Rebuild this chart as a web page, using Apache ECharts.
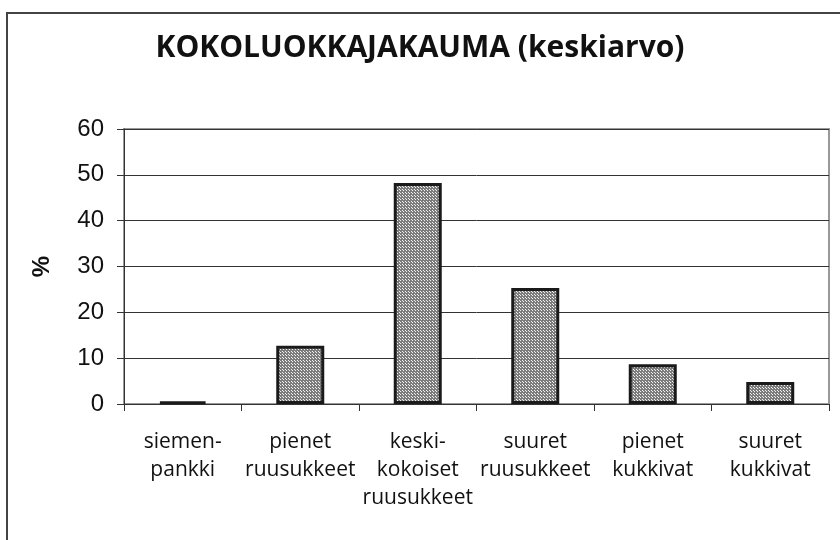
<!DOCTYPE html>
<html>
<head>
<meta charset="utf-8">
<script src="https://cdn.jsdelivr.net/npm/echarts@6/dist/echarts.min.js"></script>
<style>
  html, body { margin: 0; padding: 0; background: #fff; }
  #chart { width: 840px; height: 540px; }
</style>
</head>
<body>
<div id="chart"></div>
<script>
const categories = [
  'siemen-\npankki',
  'pienet\nruusukkeet',
  'keski-\nkokoiset\nruusukkeet',
  'suuret\nruusukkeet',
  'pienet\nkukkivat',
  'suuret\nkukkivat',
]
const values = [0.5, 12.7, 48.2, 25.3, 8.7, 4.8]
const yTicks = [0, 10, 20, 30, 40, 50, 60]

// dotted gray fill like the old spreadsheet pattern
const makePattern = () => {
  const c = document.createElement('canvas')
  c.width = 3
  c.height = 3
  const ctx = c.getContext('2d')
  ctx.fillStyle = '#7c7c7c'
  ctx.fillRect(0, 0, 3, 3)
  ctx.fillStyle = '#f2f2f2'
  ctx.fillRect(1, 1, 1, 1)
  ctx.fillRect(0, 0, 1, 1)
  return c
}

const chart = echarts.init(document.getElementById('chart'))

const option = {
  animation: false,
  backgroundColor: '#fff',
  title: {
    text: 'KOKOLUOKKAJAKAUMA (keskiarvo)',
    left: 'center',
    top: 28,
    textStyle: {
      fontFamily: 'Open Sans',
      fontWeight: 'bold',
      fontSize: 30,
      color: '#111',
    },
  },
  graphic: [
    {
      type: 'rect',
      shape: { x: 7, y: 13, width: 900, height: 600 },
      style: { fill: 'none', stroke: '#444', lineWidth: 2 },
      silent: true,
    },
  ],
  grid: {
    left: 124,
    right: 11,
    top: 129,
    bottom: 136,
    show: true,
    borderColor: '#999',
    borderWidth: 2,
  },
  xAxis: {
    type: 'category',
    data: categories,
    axisLine: { lineStyle: { color: '#333', width: 1 } },
    axisTick: { show: true, length: 7, lineStyle: { color: '#333' } },
    axisLabel: {
      margin: 24,
      interval: 0,
      fontFamily: 'Open Sans',
      fontSize: 21,
      lineHeight: 28,
      color: '#111',
    },
  },
  yAxis: {
    type: 'value',
    min: yTicks[0],
    max: yTicks[yTicks.length - 1],
    interval: 10,
    name: '%',
    nameLocation: 'middle',
    nameRotate: 90,
    nameGap: 70,
    nameTextStyle: {
      fontFamily: 'Liberation Sans',
      fontWeight: 'bold',
      fontSize: 24,
      color: '#111',
    },
    axisLine: { show: true, lineStyle: { color: '#333', width: 1 } },
    axisTick: { show: true, length: 7, lineStyle: { color: '#333' } },
    axisLabel: {
      margin: 20,
      fontFamily: 'Liberation Sans',
      fontSize: 24,
      color: '#111',
    },
    splitLine: { lineStyle: { color: '#333', width: 1 } },
  },
  series: [
    {
      type: 'bar',
      data: values,
      barWidth: 48,
      itemStyle: {
        color: { image: makePattern(), repeat: 'repeat' },
        borderColor: '#1a1a1a',
        borderWidth: 3,
      },
    },
  ],
}

chart.setOption(option)
</script>
</body>
</html>
